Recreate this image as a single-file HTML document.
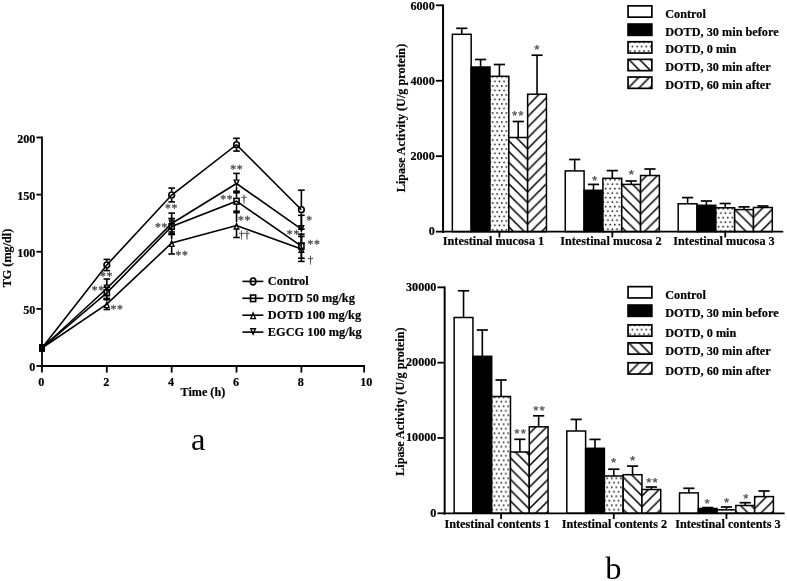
<!DOCTYPE html>
<html><head><meta charset="utf-8"><title>Figure</title>
<style>
html,body{margin:0;padding:0;background:#fff;}
svg{display:block;font-family:"Liberation Serif",serif;}
</style></head><body>
<svg width="787" height="581" viewBox="0 0 787 581">
<defs>
<pattern id="p0" patternUnits="userSpaceOnUse" x="491.8" y="85.2" width="4.58" height="9.0"><rect x="0.05" y="0.05" width="1.5" height="1.5" fill="#000"/><rect x="2.34" y="4.55" width="1.5" height="1.5" fill="#000"/></pattern>
<pattern id="p1" patternUnits="userSpaceOnUse" x="527.6" y="148.9" width="10.75" height="10.75"><path d="M-2,-2 L12.75,12.75 M-2,8.75 L2,12.75 M8.75,-2 L12.75,2" stroke="#000" stroke-width="1.55" fill="none"/></pattern>
<pattern id="p2" patternUnits="userSpaceOnUse" x="527.6" y="148.9" width="10.75" height="10.75"><path d="M-2,12.75 L12.75,-2 M-2,2 L2,-2 M8.75,12.75 L12.75,8.75" stroke="#000" stroke-width="1.55" fill="none"/></pattern>
<pattern id="p3" patternUnits="userSpaceOnUse" x="604.8000000000001" y="88.83" width="4.58" height="9.0"><rect x="0.05" y="0.05" width="1.5" height="1.5" fill="#000"/><rect x="2.34" y="4.55" width="1.5" height="1.5" fill="#000"/></pattern>
<pattern id="p4" patternUnits="userSpaceOnUse" x="640.6" y="192.4" width="10.75" height="10.75"><path d="M-2,-2 L12.75,12.75 M-2,8.75 L2,12.75 M8.75,-2 L12.75,2" stroke="#000" stroke-width="1.55" fill="none"/></pattern>
<pattern id="p5" patternUnits="userSpaceOnUse" x="640.6" y="192.4" width="10.75" height="10.75"><path d="M-2,12.75 L12.75,-2 M-2,2 L2,-2 M8.75,12.75 L12.75,8.75" stroke="#000" stroke-width="1.55" fill="none"/></pattern>
<pattern id="p6" patternUnits="userSpaceOnUse" x="717.8000000000001" y="81.82000000000001" width="4.58" height="9.0"><rect x="0.05" y="0.05" width="1.5" height="1.5" fill="#000"/><rect x="2.34" y="4.55" width="1.5" height="1.5" fill="#000"/></pattern>
<pattern id="p7" patternUnits="userSpaceOnUse" x="753.4" y="228.1" width="10.75" height="10.75"><path d="M-2,-2 L12.75,12.75 M-2,8.75 L2,12.75 M8.75,-2 L12.75,2" stroke="#000" stroke-width="1.55" fill="none"/></pattern>
<pattern id="p8" patternUnits="userSpaceOnUse" x="753.4" y="228.1" width="10.75" height="10.75"><path d="M-2,12.75 L12.75,-2 M-2,2 L2,-2 M8.75,12.75 L12.75,8.75" stroke="#000" stroke-width="1.55" fill="none"/></pattern>
<pattern id="p9" patternUnits="userSpaceOnUse" x="629.4000000000001" y="50.300000000000004" width="4.58" height="9.0"><rect x="0.05" y="0.05" width="1.5" height="1.5" fill="#000"/><rect x="2.34" y="4.55" width="1.5" height="1.5" fill="#000"/></pattern>
<pattern id="p10" patternUnits="userSpaceOnUse" x="629.5" y="60.2" width="10.75" height="10.75"><path d="M-2,-2 L12.75,12.75 M-2,8.75 L2,12.75 M8.75,-2 L12.75,2" stroke="#000" stroke-width="1.55" fill="none"/></pattern>
<pattern id="p11" patternUnits="userSpaceOnUse" x="628.65" y="87.5" width="10.75" height="10.75"><path d="M-2,12.75 L12.75,-2 M-2,2 L2,-2 M8.75,12.75 L12.75,8.75" stroke="#000" stroke-width="1.55" fill="none"/></pattern>
<pattern id="p12" patternUnits="userSpaceOnUse" x="493.65" y="405.46" width="4.58" height="9.0"><rect x="0.05" y="0.05" width="1.5" height="1.5" fill="#000"/><rect x="2.34" y="4.55" width="1.5" height="1.5" fill="#000"/></pattern>
<pattern id="p13" patternUnits="userSpaceOnUse" x="529.2" y="465.9" width="10.75" height="10.75"><path d="M-2,-2 L12.75,12.75 M-2,8.75 L2,12.75 M8.75,-2 L12.75,2" stroke="#000" stroke-width="1.55" fill="none"/></pattern>
<pattern id="p14" patternUnits="userSpaceOnUse" x="529.2" y="465.9" width="10.75" height="10.75"><path d="M-2,12.75 L12.75,-2 M-2,2 L2,-2 M8.75,12.75 L12.75,8.75" stroke="#000" stroke-width="1.55" fill="none"/></pattern>
<pattern id="p15" patternUnits="userSpaceOnUse" x="606.33" y="405.46" width="4.58" height="9.0"><rect x="0.05" y="0.05" width="1.5" height="1.5" fill="#000"/><rect x="2.34" y="4.55" width="1.5" height="1.5" fill="#000"/></pattern>
<pattern id="p16" patternUnits="userSpaceOnUse" x="642" y="485.2" width="10.75" height="10.75"><path d="M-2,-2 L12.75,12.75 M-2,8.75 L2,12.75 M8.75,-2 L12.75,2" stroke="#000" stroke-width="1.55" fill="none"/></pattern>
<pattern id="p17" patternUnits="userSpaceOnUse" x="642" y="485.2" width="10.75" height="10.75"><path d="M-2,12.75 L12.75,-2 M-2,2 L2,-2 M8.75,12.75 L12.75,8.75" stroke="#000" stroke-width="1.55" fill="none"/></pattern>
<pattern id="p18" patternUnits="userSpaceOnUse" x="719.01" y="405.46" width="4.58" height="9.0"><rect x="0.05" y="0.05" width="1.5" height="1.5" fill="#000"/><rect x="2.34" y="4.55" width="1.5" height="1.5" fill="#000"/></pattern>
<pattern id="p19" patternUnits="userSpaceOnUse" x="754.5" y="508.7" width="10.75" height="10.75"><path d="M-2,-2 L12.75,12.75 M-2,8.75 L2,12.75 M8.75,-2 L12.75,2" stroke="#000" stroke-width="1.55" fill="none"/></pattern>
<pattern id="p20" patternUnits="userSpaceOnUse" x="754.5" y="508.7" width="10.75" height="10.75"><path d="M-2,12.75 L12.75,-2 M-2,2 L2,-2 M8.75,12.75 L12.75,8.75" stroke="#000" stroke-width="1.55" fill="none"/></pattern>
<pattern id="p21" patternUnits="userSpaceOnUse" x="629.4000000000001" y="333.4" width="4.58" height="9.0"><rect x="0.05" y="0.05" width="1.5" height="1.5" fill="#000"/><rect x="2.34" y="4.55" width="1.5" height="1.5" fill="#000"/></pattern>
<pattern id="p22" patternUnits="userSpaceOnUse" x="629.5" y="343.70000000000005" width="10.75" height="10.75"><path d="M-2,-2 L12.75,12.75 M-2,8.75 L2,12.75 M8.75,-2 L12.75,2" stroke="#000" stroke-width="1.55" fill="none"/></pattern>
<pattern id="p23" patternUnits="userSpaceOnUse" x="628.65" y="373.2" width="10.75" height="10.75"><path d="M-2,12.75 L12.75,-2 M-2,2 L2,-2 M8.75,12.75 L12.75,8.75" stroke="#000" stroke-width="1.55" fill="none"/></pattern>
</defs>
<rect width="787" height="581" fill="#fff"/>

<g id="chartA">
<line x1="42" y1="136.6" x2="42" y2="366.9" stroke="#000" stroke-width="1.8" />
<line x1="41.1" y1="366" x2="365.0" y2="366" stroke="#000" stroke-width="1.8" />
<line x1="36.4" y1="366.0" x2="42" y2="366.0" stroke="#000" stroke-width="1.8" />
<text x="35.4" y="371.0" font-size="12.15" font-weight="bold" stroke="#000" stroke-width="0.18" text-anchor="end" fill="#000" >0</text>
<line x1="36.4" y1="308.88" x2="42" y2="308.88" stroke="#000" stroke-width="1.8" />
<text x="35.4" y="313.88" font-size="12.15" font-weight="bold" stroke="#000" stroke-width="0.18" text-anchor="end" fill="#000" >50</text>
<line x1="36.4" y1="251.75" x2="42" y2="251.75" stroke="#000" stroke-width="1.8" />
<text x="35.4" y="256.75" font-size="12.15" font-weight="bold" stroke="#000" stroke-width="0.18" text-anchor="end" fill="#000" >100</text>
<line x1="36.4" y1="194.62" x2="42" y2="194.62" stroke="#000" stroke-width="1.8" />
<text x="35.4" y="199.62" font-size="12.15" font-weight="bold" stroke="#000" stroke-width="0.18" text-anchor="end" fill="#000" >150</text>
<line x1="36.4" y1="137.5" x2="42" y2="137.5" stroke="#000" stroke-width="1.8" />
<text x="35.4" y="142.5" font-size="12.15" font-weight="bold" stroke="#000" stroke-width="0.18" text-anchor="end" fill="#000" >200</text>
<line x1="41.95" y1="366" x2="41.95" y2="372.6" stroke="#000" stroke-width="1.8" />
<text x="41.35" y="386.1" font-size="12.15" font-weight="bold" stroke="#000" stroke-width="0.18" text-anchor="middle" fill="#000" >0</text>
<line x1="106.81" y1="366" x2="106.81" y2="372.6" stroke="#000" stroke-width="1.8" />
<text x="106.21" y="386.1" font-size="12.15" font-weight="bold" stroke="#000" stroke-width="0.18" text-anchor="middle" fill="#000" >2</text>
<line x1="171.67" y1="366" x2="171.67" y2="372.6" stroke="#000" stroke-width="1.8" />
<text x="171.07" y="386.1" font-size="12.15" font-weight="bold" stroke="#000" stroke-width="0.18" text-anchor="middle" fill="#000" >4</text>
<line x1="236.53" y1="366" x2="236.53" y2="372.6" stroke="#000" stroke-width="1.8" />
<text x="235.93" y="386.1" font-size="12.15" font-weight="bold" stroke="#000" stroke-width="0.18" text-anchor="middle" fill="#000" >6</text>
<line x1="301.39" y1="366" x2="301.39" y2="372.6" stroke="#000" stroke-width="1.8" />
<text x="300.79" y="386.1" font-size="12.15" font-weight="bold" stroke="#000" stroke-width="0.18" text-anchor="middle" fill="#000" >8</text>
<line x1="364.1" y1="366" x2="364.1" y2="372.6" stroke="#000" stroke-width="1.8" />
<text x="366.3" y="386.1" font-size="12.15" font-weight="bold" stroke="#000" stroke-width="0.18" text-anchor="middle" fill="#000" >10</text>
<text x="202.9" y="395.8" font-size="12.15" font-weight="bold" stroke="#000" stroke-width="0.18" text-anchor="middle" fill="#000" >Time (h)</text>
<text transform="translate(11,258) rotate(-90)" font-size="12.2" font-weight="bold" stroke="#000" stroke-width="0.18" text-anchor="middle">TG (mg/dl)</text>
<text x="198.3" y="450" font-size="32.5"  text-anchor="middle" fill="#000" >a</text>
<line x1="106.81" y1="259.4" x2="106.81" y2="261.4" stroke="#000" stroke-width="1.6" />
<line x1="106.81" y1="268.6" x2="106.81" y2="270.6" stroke="#000" stroke-width="1.6" />
<line x1="103.51" y1="259.4" x2="110.11" y2="259.4" stroke="#000" stroke-width="1.6" />
<line x1="103.51" y1="270.6" x2="110.11" y2="270.6" stroke="#000" stroke-width="1.6" />
<line x1="171.67" y1="188.1" x2="171.67" y2="191.4" stroke="#000" stroke-width="1.6" />
<line x1="171.67" y1="198.6" x2="171.67" y2="201.9" stroke="#000" stroke-width="1.6" />
<line x1="168.36999999999998" y1="188.1" x2="174.97" y2="188.1" stroke="#000" stroke-width="1.6" />
<line x1="168.36999999999998" y1="201.9" x2="174.97" y2="201.9" stroke="#000" stroke-width="1.6" />
<line x1="236.53" y1="138.3" x2="236.53" y2="141.1" stroke="#000" stroke-width="1.6" />
<line x1="236.53" y1="148.3" x2="236.53" y2="151.1" stroke="#000" stroke-width="1.6" />
<line x1="233.23" y1="138.3" x2="239.83" y2="138.3" stroke="#000" stroke-width="1.6" />
<line x1="233.23" y1="151.1" x2="239.83" y2="151.1" stroke="#000" stroke-width="1.6" />
<line x1="301.39" y1="190.2" x2="301.39" y2="206.1" stroke="#000" stroke-width="1.6" />
<line x1="301.39" y1="213.3" x2="301.39" y2="229.2" stroke="#000" stroke-width="1.6" />
<line x1="298.09" y1="190.2" x2="304.69" y2="190.2" stroke="#000" stroke-width="1.6" />
<line x1="298.09" y1="229.2" x2="304.69" y2="229.2" stroke="#000" stroke-width="1.6" />
<polyline fill="none" stroke="#000" stroke-width="1.6" points="41.95,348 106.81,265 171.67,195 236.53,144.7 301.39,209.7"/>
<line x1="106.81" y1="279.0" x2="106.81" y2="284.9" stroke="#000" stroke-width="1.6" />
<line x1="106.81" y1="292.1" x2="106.81" y2="298.4" stroke="#000" stroke-width="1.6" />
<line x1="103.51" y1="279.0" x2="110.11" y2="279.0" stroke="#000" stroke-width="1.6" />
<line x1="103.51" y1="298.4" x2="110.11" y2="298.4" stroke="#000" stroke-width="1.6" />
<line x1="171.67" y1="213.1" x2="171.67" y2="219.9" stroke="#000" stroke-width="1.6" />
<line x1="171.67" y1="227.1" x2="171.67" y2="233.9" stroke="#000" stroke-width="1.6" />
<line x1="168.36999999999998" y1="213.1" x2="174.97" y2="213.1" stroke="#000" stroke-width="1.6" />
<line x1="168.36999999999998" y1="233.9" x2="174.97" y2="233.9" stroke="#000" stroke-width="1.6" />
<line x1="236.53" y1="173.4" x2="236.53" y2="179.9" stroke="#000" stroke-width="1.6" />
<line x1="236.53" y1="187.1" x2="236.53" y2="192.8" stroke="#000" stroke-width="1.6" />
<line x1="233.23" y1="173.4" x2="239.83" y2="173.4" stroke="#000" stroke-width="1.6" />
<line x1="233.23" y1="192.8" x2="239.83" y2="192.8" stroke="#000" stroke-width="1.6" />
<line x1="301.39" y1="215.3" x2="301.39" y2="225.6" stroke="#000" stroke-width="1.6" />
<line x1="301.39" y1="232.8" x2="301.39" y2="243.1" stroke="#000" stroke-width="1.6" />
<line x1="298.09" y1="215.3" x2="304.69" y2="215.3" stroke="#000" stroke-width="1.6" />
<line x1="298.09" y1="243.1" x2="304.69" y2="243.1" stroke="#000" stroke-width="1.6" />
<polyline fill="none" stroke="#000" stroke-width="1.6" points="41.95,348 106.81,288.5 171.67,223.5 236.53,183.5 301.39,229.2"/>
<line x1="106.81" y1="287.3" x2="106.81" y2="289.2" stroke="#000" stroke-width="1.6" />
<line x1="106.81" y1="296.4" x2="106.81" y2="299.7" stroke="#000" stroke-width="1.6" />
<line x1="103.51" y1="287.3" x2="110.11" y2="287.3" stroke="#000" stroke-width="1.6" />
<line x1="103.51" y1="299.7" x2="110.11" y2="299.7" stroke="#000" stroke-width="1.6" />
<line x1="171.67" y1="218.5" x2="171.67" y2="222.9" stroke="#000" stroke-width="1.6" />
<line x1="171.67" y1="230.1" x2="171.67" y2="234.5" stroke="#000" stroke-width="1.6" />
<line x1="168.36999999999998" y1="218.5" x2="174.97" y2="218.5" stroke="#000" stroke-width="1.6" />
<line x1="168.36999999999998" y1="234.5" x2="174.97" y2="234.5" stroke="#000" stroke-width="1.6" />
<line x1="236.53" y1="191.2" x2="236.53" y2="197.6" stroke="#000" stroke-width="1.6" />
<line x1="236.53" y1="204.8" x2="236.53" y2="211.2" stroke="#000" stroke-width="1.6" />
<line x1="233.23" y1="191.2" x2="239.83" y2="191.2" stroke="#000" stroke-width="1.6" />
<line x1="233.23" y1="211.2" x2="239.83" y2="211.2" stroke="#000" stroke-width="1.6" />
<line x1="301.39" y1="234.2" x2="301.39" y2="242.6" stroke="#000" stroke-width="1.6" />
<line x1="301.39" y1="249.8" x2="301.39" y2="258.2" stroke="#000" stroke-width="1.6" />
<line x1="298.09" y1="234.2" x2="304.69" y2="234.2" stroke="#000" stroke-width="1.6" />
<line x1="298.09" y1="258.2" x2="304.69" y2="258.2" stroke="#000" stroke-width="1.6" />
<polyline fill="none" stroke="#000" stroke-width="1.6" points="41.95,348 106.81,292.8 171.67,226.5 236.53,201.2 301.39,246.2"/>
<line x1="106.81" y1="298.9" x2="106.81" y2="300.6" stroke="#000" stroke-width="1.6" />
<line x1="106.81" y1="307.8" x2="106.81" y2="309.5" stroke="#000" stroke-width="1.6" />
<line x1="103.51" y1="298.9" x2="110.11" y2="298.9" stroke="#000" stroke-width="1.6" />
<line x1="103.51" y1="309.5" x2="110.11" y2="309.5" stroke="#000" stroke-width="1.6" />
<line x1="171.67" y1="232" x2="171.67" y2="239.4" stroke="#000" stroke-width="1.6" />
<line x1="171.67" y1="246.6" x2="171.67" y2="254" stroke="#000" stroke-width="1.6" />
<line x1="168.36999999999998" y1="232" x2="174.97" y2="232" stroke="#000" stroke-width="1.6" />
<line x1="168.36999999999998" y1="254" x2="174.97" y2="254" stroke="#000" stroke-width="1.6" />
<line x1="236.53" y1="212.6" x2="236.53" y2="222.0" stroke="#000" stroke-width="1.6" />
<line x1="236.53" y1="229.2" x2="236.53" y2="237.5" stroke="#000" stroke-width="1.6" />
<line x1="233.23" y1="212.6" x2="239.83" y2="212.6" stroke="#000" stroke-width="1.6" />
<line x1="233.23" y1="237.5" x2="239.83" y2="237.5" stroke="#000" stroke-width="1.6" />
<line x1="301.39" y1="236.4" x2="301.39" y2="245.3" stroke="#000" stroke-width="1.6" />
<line x1="301.39" y1="252.5" x2="301.39" y2="261.4" stroke="#000" stroke-width="1.6" />
<line x1="298.09" y1="236.4" x2="304.69" y2="236.4" stroke="#000" stroke-width="1.6" />
<line x1="298.09" y1="261.4" x2="304.69" y2="261.4" stroke="#000" stroke-width="1.6" />
<polyline fill="none" stroke="#000" stroke-width="1.6" points="41.95,348 106.81,304.2 171.67,243 236.53,225.6 301.39,248.9"/>
<rect x="39.050000000000004" y="344.5" width="5.8" height="7" fill="#000"/>
<ellipse cx="106.81" cy="265" rx="2.8" ry="2.95" fill="none" stroke="#000" stroke-width="1.6"/>
<ellipse cx="171.67" cy="195" rx="2.8" ry="2.95" fill="none" stroke="#000" stroke-width="1.6"/>
<ellipse cx="236.53" cy="144.7" rx="2.8" ry="2.95" fill="none" stroke="#000" stroke-width="1.6"/>
<ellipse cx="301.39" cy="209.7" rx="2.8" ry="2.95" fill="none" stroke="#000" stroke-width="1.6"/>
<rect x="39.050000000000004" y="344.5" width="5.8" height="7" fill="#000"/>
<path d="M106.81,290.6 L109.11,285.1 L104.51,285.1 Z" fill="none" stroke="#000" stroke-width="1.4000000000000001" stroke-linejoin="miter"/>
<path d="M171.67,225.6 L173.97,220.1 L169.36999999999998,220.1 Z" fill="none" stroke="#000" stroke-width="1.4000000000000001" stroke-linejoin="miter"/>
<path d="M236.53,185.6 L238.83,180.1 L234.23,180.1 Z" fill="none" stroke="#000" stroke-width="1.4000000000000001" stroke-linejoin="miter"/>
<path d="M301.39,231.3 L303.69,225.8 L299.09,225.8 Z" fill="none" stroke="#000" stroke-width="1.4000000000000001" stroke-linejoin="miter"/>
<rect x="39.050000000000004" y="344.5" width="5.8" height="7" fill="#000"/>
<rect x="104.26" y="289.95" width="5.1" height="5.7" fill="none" stroke="#000" stroke-width="1.6"/>
<rect x="169.12" y="223.65" width="5.1" height="5.7" fill="none" stroke="#000" stroke-width="1.6"/>
<rect x="233.98" y="198.35" width="5.1" height="5.7" fill="none" stroke="#000" stroke-width="1.6"/>
<rect x="298.84" y="243.35" width="5.1" height="5.7" fill="none" stroke="#000" stroke-width="1.6"/>
<rect x="39.050000000000004" y="344.5" width="5.8" height="7" fill="#000"/>
<path d="M106.81,302.1 L109.11,307.6 L104.51,307.6 Z" fill="none" stroke="#000" stroke-width="1.4000000000000001" stroke-linejoin="miter"/>
<path d="M171.67,240.9 L173.97,246.4 L169.36999999999998,246.4 Z" fill="none" stroke="#000" stroke-width="1.4000000000000001" stroke-linejoin="miter"/>
<path d="M236.53,223.5 L238.83,229.0 L234.23,229.0 Z" fill="none" stroke="#000" stroke-width="1.4000000000000001" stroke-linejoin="miter"/>
<path d="M301.39,246.8 L303.69,252.3 L299.09,252.3 Z" fill="none" stroke="#000" stroke-width="1.4000000000000001" stroke-linejoin="miter"/>
<text x="106.6" y="279.96" font-size="11.7" letter-spacing="0.7" text-anchor="middle" fill="#4a4a4a" stroke="#4a4a4a" stroke-width="0.3">**</text>
<text x="98.19999999999999" y="294.46" font-size="11.7" letter-spacing="0.7" text-anchor="middle" fill="#4a4a4a" stroke="#4a4a4a" stroke-width="0.3">**</text>
<text x="117.1" y="313.46" font-size="11.7" letter-spacing="0.7" text-anchor="middle" fill="#4a4a4a" stroke="#4a4a4a" stroke-width="0.3">**</text>
<text x="171.6" y="211.96" font-size="11.7" letter-spacing="0.7" text-anchor="middle" fill="#4a4a4a" stroke="#4a4a4a" stroke-width="0.3">**</text>
<text x="161.6" y="230.96" font-size="11.7" letter-spacing="0.7" text-anchor="middle" fill="#4a4a4a" stroke="#4a4a4a" stroke-width="0.3">**</text>
<text x="182.1" y="258.96" font-size="11.7" letter-spacing="0.7" text-anchor="middle" fill="#4a4a4a" stroke="#4a4a4a" stroke-width="0.3">**</text>
<text x="236.79999999999998" y="172.96" font-size="11.7" letter-spacing="0.7" text-anchor="middle" fill="#4a4a4a" stroke="#4a4a4a" stroke-width="0.3">**</text>
<text x="226.79999999999998" y="202.96" font-size="11.7" letter-spacing="0.7" text-anchor="middle" fill="#4a4a4a" stroke="#4a4a4a" stroke-width="0.3">**</text>
<text x="244.1" y="201.73" font-size="11" text-anchor="middle" fill="#4a4a4a" stroke="#4a4a4a" stroke-width="0.3">†</text>
<text x="244.6" y="224.46" font-size="11.7" letter-spacing="0.7" text-anchor="middle" fill="#4a4a4a" stroke="#4a4a4a" stroke-width="0.3">**</text>
<text x="244.25" y="238.43" font-size="11" text-anchor="middle" fill="#4a4a4a" stroke="#4a4a4a" stroke-width="0.3">††</text>
<text x="309.55" y="224.46" font-size="11.7" letter-spacing="0.7" text-anchor="middle" fill="#4a4a4a" stroke="#4a4a4a" stroke-width="0.3">*</text>
<text x="293.40000000000003" y="238.36" font-size="11.7" letter-spacing="0.7" text-anchor="middle" fill="#4a4a4a" stroke="#4a4a4a" stroke-width="0.3">**</text>
<text x="314.1" y="247.96" font-size="11.7" letter-spacing="0.7" text-anchor="middle" fill="#4a4a4a" stroke="#4a4a4a" stroke-width="0.3">**</text>
<text x="310.5" y="263.03" font-size="11" text-anchor="middle" fill="#4a4a4a" stroke="#4a4a4a" stroke-width="0.3">†</text>
<line x1="242.4" y1="281.4" x2="263.4" y2="281.4" stroke="#000" stroke-width="1.6" />
<ellipse cx="253.1" cy="281.4" rx="2.7" ry="3.45" fill="none" stroke="#000" stroke-width="1.6"/>
<text x="267.8" y="284.8" font-size="12.35" font-weight="bold" stroke="#000" stroke-width="0.18" text-anchor="start" fill="#000" >Control</text>
<line x1="242.4" y1="298.29999999999995" x2="263.4" y2="298.29999999999995" stroke="#000" stroke-width="1.6" />
<rect x="250.55" y="295.05" width="5.1" height="6.5" fill="none" stroke="#000" stroke-width="1.6"/>
<text x="267.8" y="301.7" font-size="12.35" font-weight="bold" stroke="#000" stroke-width="0.18" text-anchor="start" fill="#000" >DOTD 50 mg/kg</text>
<line x1="242.4" y1="315.2" x2="263.4" y2="315.2" stroke="#000" stroke-width="1.6" />
<path d="M253.1,313.1 L255.4,318.6 L250.79999999999998,318.6 Z" fill="none" stroke="#000" stroke-width="1.4000000000000001" stroke-linejoin="miter"/>
<text x="267.8" y="318.6" font-size="12.35" font-weight="bold" stroke="#000" stroke-width="0.18" text-anchor="start" fill="#000" >DOTD 100 mg/kg</text>
<line x1="242.4" y1="332.09999999999997" x2="263.4" y2="332.09999999999997" stroke="#000" stroke-width="1.6" />
<path d="M253.1,334.2 L255.4,328.7 L250.79999999999998,328.7 Z" fill="none" stroke="#000" stroke-width="1.4000000000000001" stroke-linejoin="miter"/>
<text x="267.8" y="335.5" font-size="12.35" font-weight="bold" stroke="#000" stroke-width="0.18" text-anchor="start" fill="#000" >EGCG 100 mg/kg</text>
</g>
<g>
<line x1="461.76" y1="28.3" x2="461.76" y2="34.3" stroke="#000" stroke-width="1.6" />
<line x1="456.16" y1="28.3" x2="467.36" y2="28.3" stroke="#000" stroke-width="1.7000000000000002" />
<rect x="452.35" y="34.3" width="18.82" height="197.35" fill="#fff" stroke="#000" stroke-width="1.5"/>
<line x1="480.58" y1="59.5" x2="480.58" y2="67" stroke="#000" stroke-width="1.6" />
<line x1="474.98" y1="59.5" x2="486.18" y2="59.5" stroke="#000" stroke-width="1.7000000000000002" />
<rect x="471.17" y="67" width="18.82" height="164.65" fill="#000" stroke="#000" stroke-width="1.5"/>
<line x1="499.4" y1="64.5" x2="499.4" y2="76.3" stroke="#000" stroke-width="1.6" />
<line x1="493.8" y1="64.5" x2="505.0" y2="64.5" stroke="#000" stroke-width="1.7000000000000002" />
<rect x="489.99" y="76.3" width="18.82" height="155.35" fill="#fff"/>
<rect x="489.99" y="76.3" width="18.82" height="155.35" fill="url(#p0)" stroke="#000" stroke-width="1.5"/>
<line x1="518.22" y1="121.5" x2="518.22" y2="137.5" stroke="#000" stroke-width="1.6" />
<line x1="512.62" y1="121.5" x2="523.82" y2="121.5" stroke="#000" stroke-width="1.7000000000000002" />
<rect x="508.81" y="137.5" width="18.82" height="94.15" fill="#fff"/>
<rect x="508.81" y="137.5" width="18.82" height="94.15" fill="url(#p1)" stroke="#000" stroke-width="1.5"/>
<line x1="537.04" y1="55.2" x2="537.04" y2="94.2" stroke="#000" stroke-width="1.6" />
<line x1="531.44" y1="55.2" x2="542.64" y2="55.2" stroke="#000" stroke-width="1.7000000000000002" />
<rect x="527.63" y="94.2" width="18.82" height="137.45" fill="#fff"/>
<rect x="527.63" y="94.2" width="18.82" height="137.45" fill="url(#p2)" stroke="#000" stroke-width="1.5"/>
<line x1="499.4" y1="231.65" x2="499.4" y2="237.45000000000002" stroke="#000" stroke-width="1.8" />
<text x="493.5" y="245.0" font-size="12.25" font-weight="bold" stroke="#000" stroke-width="0.18" text-anchor="middle" fill="#000" >Intestinal mucosa 1</text>
<line x1="574.68" y1="159.5" x2="574.68" y2="170.9" stroke="#000" stroke-width="1.6" />
<line x1="569.08" y1="159.5" x2="580.28" y2="159.5" stroke="#000" stroke-width="1.7000000000000002" />
<rect x="565.27" y="170.9" width="18.82" height="60.75" fill="#fff" stroke="#000" stroke-width="1.5"/>
<line x1="593.5" y1="184.4" x2="593.5" y2="190.3" stroke="#000" stroke-width="1.6" />
<line x1="587.9" y1="184.4" x2="599.1" y2="184.4" stroke="#000" stroke-width="1.7000000000000002" />
<rect x="584.09" y="190.3" width="18.82" height="41.35" fill="#000" stroke="#000" stroke-width="1.5"/>
<line x1="612.32" y1="170.6" x2="612.32" y2="178.3" stroke="#000" stroke-width="1.6" />
<line x1="606.72" y1="170.6" x2="617.92" y2="170.6" stroke="#000" stroke-width="1.7000000000000002" />
<rect x="602.91" y="178.3" width="18.82" height="53.35" fill="#fff"/>
<rect x="602.91" y="178.3" width="18.82" height="53.35" fill="url(#p3)" stroke="#000" stroke-width="1.5"/>
<line x1="631.14" y1="181" x2="631.14" y2="184.4" stroke="#000" stroke-width="1.6" />
<line x1="625.54" y1="181" x2="636.74" y2="181" stroke="#000" stroke-width="1.7000000000000002" />
<rect x="621.73" y="184.4" width="18.82" height="47.25" fill="#fff"/>
<rect x="621.73" y="184.4" width="18.82" height="47.25" fill="url(#p4)" stroke="#000" stroke-width="1.5"/>
<line x1="649.96" y1="169" x2="649.96" y2="175.5" stroke="#000" stroke-width="1.6" />
<line x1="644.36" y1="169" x2="655.56" y2="169" stroke="#000" stroke-width="1.7000000000000002" />
<rect x="640.55" y="175.5" width="18.82" height="56.15" fill="#fff"/>
<rect x="640.55" y="175.5" width="18.82" height="56.15" fill="url(#p5)" stroke="#000" stroke-width="1.5"/>
<line x1="612.32" y1="231.65" x2="612.32" y2="237.45000000000002" stroke="#000" stroke-width="1.8" />
<text x="610.9" y="245.0" font-size="12.25" font-weight="bold" stroke="#000" stroke-width="0.18" text-anchor="middle" fill="#000" >Intestinal mucosa 2</text>
<line x1="687.6" y1="197.6" x2="687.6" y2="203.8" stroke="#000" stroke-width="1.6" />
<line x1="682.0" y1="197.6" x2="693.2" y2="197.6" stroke="#000" stroke-width="1.7000000000000002" />
<rect x="678.19" y="203.8" width="18.82" height="27.85" fill="#fff" stroke="#000" stroke-width="1.5"/>
<line x1="706.42" y1="201" x2="706.42" y2="205.3" stroke="#000" stroke-width="1.6" />
<line x1="700.82" y1="201" x2="712.02" y2="201" stroke="#000" stroke-width="1.7000000000000002" />
<rect x="697.01" y="205.3" width="18.82" height="26.35" fill="#000" stroke="#000" stroke-width="1.5"/>
<line x1="725.24" y1="203.5" x2="725.24" y2="207.8" stroke="#000" stroke-width="1.6" />
<line x1="719.64" y1="203.5" x2="730.84" y2="203.5" stroke="#000" stroke-width="1.7000000000000002" />
<rect x="715.83" y="207.8" width="18.82" height="23.85" fill="#fff"/>
<rect x="715.83" y="207.8" width="18.82" height="23.85" fill="url(#p6)" stroke="#000" stroke-width="1.5"/>
<line x1="744.06" y1="206.9" x2="744.06" y2="209.6" stroke="#000" stroke-width="1.6" />
<line x1="738.46" y1="206.9" x2="749.66" y2="206.9" stroke="#000" stroke-width="1.7000000000000002" />
<rect x="734.65" y="209.6" width="18.82" height="22.05" fill="#fff"/>
<rect x="734.65" y="209.6" width="18.82" height="22.05" fill="url(#p7)" stroke="#000" stroke-width="1.5"/>
<line x1="762.88" y1="206" x2="762.88" y2="207.5" stroke="#000" stroke-width="1.6" />
<line x1="757.28" y1="206" x2="768.48" y2="206" stroke="#000" stroke-width="1.7000000000000002" />
<rect x="753.47" y="207.5" width="18.82" height="24.15" fill="#fff"/>
<rect x="753.47" y="207.5" width="18.82" height="24.15" fill="url(#p8)" stroke="#000" stroke-width="1.5"/>
<line x1="725.24" y1="231.65" x2="725.24" y2="237.45000000000002" stroke="#000" stroke-width="1.8" />
<text x="724" y="245.0" font-size="12.25" font-weight="bold" stroke="#000" stroke-width="0.18" text-anchor="middle" fill="#000" >Intestinal mucosa 3</text>
<line x1="443.05" y1="4.3999999999999995" x2="443.05" y2="232.95000000000002" stroke="#000" stroke-width="2.0" />
<line x1="442.15000000000003" y1="231.65" x2="783.3" y2="231.65" stroke="#000" stroke-width="1.8" />
<line x1="435.85" y1="5.3" x2="443.05" y2="5.3" stroke="#000" stroke-width="1.8" />
<text x="434.75" y="10.45" font-size="12.15" font-weight="bold" stroke="#000" stroke-width="0.18" text-anchor="end" fill="#000" >6000</text>
<line x1="435.85" y1="80.75" x2="443.05" y2="80.75" stroke="#000" stroke-width="1.8" />
<text x="434.75" y="84.5" font-size="12.15" font-weight="bold" stroke="#000" stroke-width="0.18" text-anchor="end" fill="#000" >4000</text>
<line x1="435.85" y1="156.2" x2="443.05" y2="156.2" stroke="#000" stroke-width="1.8" />
<text x="434.75" y="159.65" font-size="12.15" font-weight="bold" stroke="#000" stroke-width="0.18" text-anchor="end" fill="#000" >2000</text>
<line x1="435.85" y1="231.65" x2="443.05" y2="231.65" stroke="#000" stroke-width="1.8" />
<text x="434.75" y="234.8" font-size="12.15" font-weight="bold" stroke="#000" stroke-width="0.18" text-anchor="end" fill="#000" >0</text>
<text transform="translate(404.6,118) rotate(-90)" font-size="12.2" font-weight="bold" stroke="#000" stroke-width="0.18" text-anchor="middle">Lipase Activity (U/g protein)</text>
<rect x="628.05" y="5.85" width="23.8" height="11.3" fill="#fff" stroke="#000" stroke-width="1.7"/>
<text x="665.2" y="17.5" font-size="12.25" font-weight="bold" stroke="#000" stroke-width="0.18" text-anchor="start" fill="#000" >Control</text>
<rect x="628.05" y="24.05" width="23.8" height="11.3" fill="#000" stroke="#000" stroke-width="1.7"/>
<text x="665.2" y="35.7" font-size="12.25" font-weight="bold" stroke="#000" stroke-width="0.18" text-anchor="start" fill="#000" >DOTD, 30 min before</text>
<rect x="628.05" y="41.75" width="23.8" height="11.3" fill="#fff"/>
<rect x="628.05" y="41.75" width="23.8" height="11.3" fill="url(#p9)" stroke="#000" stroke-width="1.7"/>
<text x="665.2" y="53.4" font-size="12.25" font-weight="bold" stroke="#000" stroke-width="0.18" text-anchor="start" fill="#000" >DOTD, 0 min</text>
<rect x="628.05" y="59.35" width="23.8" height="11.3" fill="#fff"/>
<rect x="628.05" y="59.35" width="23.8" height="11.3" fill="url(#p10)" stroke="#000" stroke-width="1.7"/>
<text x="665.2" y="71.0" font-size="12.25" font-weight="bold" stroke="#000" stroke-width="0.18" text-anchor="start" fill="#000" >DOTD, 30 min after</text>
<rect x="628.05" y="77.05" width="23.8" height="11.3" fill="#fff"/>
<rect x="628.05" y="77.05" width="23.8" height="11.3" fill="url(#p11)" stroke="#000" stroke-width="1.7"/>
<text x="665.2" y="88.7" font-size="12.25" font-weight="bold" stroke="#000" stroke-width="0.18" text-anchor="start" fill="#000" >DOTD, 60 min after</text>
<text x="518.3" y="119.8" font-family="Liberation Sans, sans-serif" font-size="13.5" letter-spacing="1.1" text-anchor="middle" fill="#4a4a4a" stroke="#4a4a4a" stroke-width="0.25">**</text>
<text x="537.4" y="53.8" font-family="Liberation Sans, sans-serif" font-size="13.5" letter-spacing="1.1" text-anchor="middle" fill="#4a4a4a" stroke="#4a4a4a" stroke-width="0.25">*</text>
<text x="595.3" y="184.61" font-family="Liberation Sans, sans-serif" font-size="13.5" letter-spacing="1.1" text-anchor="middle" fill="#4a4a4a" stroke="#4a4a4a" stroke-width="0.25">*</text>
<text x="631.9" y="179.0" font-family="Liberation Sans, sans-serif" font-size="13.5" letter-spacing="1.1" text-anchor="middle" fill="#4a4a4a" stroke="#4a4a4a" stroke-width="0.25">*</text>
</g>
<g>
<line x1="463.54" y1="290.8" x2="463.54" y2="317.5" stroke="#000" stroke-width="1.6" />
<line x1="457.94" y1="290.8" x2="469.14" y2="290.8" stroke="#000" stroke-width="1.7000000000000002" />
<rect x="454.15" y="317.5" width="18.78" height="195.80" fill="#fff" stroke="#000" stroke-width="1.5"/>
<line x1="482.32" y1="330" x2="482.32" y2="356.3" stroke="#000" stroke-width="1.6" />
<line x1="476.72" y1="330" x2="487.92" y2="330" stroke="#000" stroke-width="1.7000000000000002" />
<rect x="472.93" y="356.3" width="18.78" height="157.00" fill="#000" stroke="#000" stroke-width="1.5"/>
<line x1="501.1" y1="380" x2="501.1" y2="396.5" stroke="#000" stroke-width="1.6" />
<line x1="495.5" y1="380" x2="506.7" y2="380" stroke="#000" stroke-width="1.7000000000000002" />
<rect x="491.71" y="396.5" width="18.78" height="116.80" fill="#fff"/>
<rect x="491.71" y="396.5" width="18.78" height="116.80" fill="url(#p12)" stroke="#000" stroke-width="1.5"/>
<line x1="519.88" y1="439.3" x2="519.88" y2="452" stroke="#000" stroke-width="1.6" />
<line x1="514.28" y1="439.3" x2="525.48" y2="439.3" stroke="#000" stroke-width="1.7000000000000002" />
<rect x="510.49" y="452" width="18.78" height="61.30" fill="#fff"/>
<rect x="510.49" y="452" width="18.78" height="61.30" fill="url(#p13)" stroke="#000" stroke-width="1.5"/>
<line x1="538.66" y1="415.8" x2="538.66" y2="426.8" stroke="#000" stroke-width="1.6" />
<line x1="533.06" y1="415.8" x2="544.26" y2="415.8" stroke="#000" stroke-width="1.7000000000000002" />
<rect x="529.27" y="426.8" width="18.78" height="86.50" fill="#fff"/>
<rect x="529.27" y="426.8" width="18.78" height="86.50" fill="url(#p14)" stroke="#000" stroke-width="1.5"/>
<line x1="501.1" y1="513.3" x2="501.1" y2="519.0999999999999" stroke="#000" stroke-width="1.8" />
<text x="497.2" y="527.9" font-size="12.25" font-weight="bold" stroke="#000" stroke-width="0.18" text-anchor="middle" fill="#000" >Intestinal contents 1</text>
<line x1="576.22" y1="419.4" x2="576.22" y2="431" stroke="#000" stroke-width="1.6" />
<line x1="570.62" y1="419.4" x2="581.82" y2="419.4" stroke="#000" stroke-width="1.7000000000000002" />
<rect x="566.83" y="431" width="18.78" height="82.30" fill="#fff" stroke="#000" stroke-width="1.5"/>
<line x1="595.0" y1="439.4" x2="595.0" y2="448.3" stroke="#000" stroke-width="1.6" />
<line x1="589.4" y1="439.4" x2="600.6" y2="439.4" stroke="#000" stroke-width="1.7000000000000002" />
<rect x="585.61" y="448.3" width="18.78" height="65.00" fill="#000" stroke="#000" stroke-width="1.5"/>
<line x1="613.78" y1="469.2" x2="613.78" y2="476" stroke="#000" stroke-width="1.6" />
<line x1="608.18" y1="469.2" x2="619.38" y2="469.2" stroke="#000" stroke-width="1.7000000000000002" />
<rect x="604.39" y="476" width="18.78" height="37.30" fill="#fff"/>
<rect x="604.39" y="476" width="18.78" height="37.30" fill="url(#p15)" stroke="#000" stroke-width="1.5"/>
<line x1="632.56" y1="466.1" x2="632.56" y2="474.7" stroke="#000" stroke-width="1.6" />
<line x1="626.96" y1="466.1" x2="638.16" y2="466.1" stroke="#000" stroke-width="1.7000000000000002" />
<rect x="623.17" y="474.7" width="18.78" height="38.60" fill="#fff"/>
<rect x="623.17" y="474.7" width="18.78" height="38.60" fill="url(#p16)" stroke="#000" stroke-width="1.5"/>
<line x1="651.34" y1="487" x2="651.34" y2="489.5" stroke="#000" stroke-width="1.6" />
<line x1="645.74" y1="487" x2="656.94" y2="487" stroke="#000" stroke-width="1.7000000000000002" />
<rect x="641.95" y="489.5" width="18.78" height="23.80" fill="#fff"/>
<rect x="641.95" y="489.5" width="18.78" height="23.80" fill="url(#p17)" stroke="#000" stroke-width="1.5"/>
<line x1="613.78" y1="513.3" x2="613.78" y2="519.0999999999999" stroke="#000" stroke-width="1.8" />
<text x="614.4" y="527.9" font-size="12.25" font-weight="bold" stroke="#000" stroke-width="0.18" text-anchor="middle" fill="#000" >Intestinal contents 2</text>
<line x1="688.9" y1="488.3" x2="688.9" y2="492.9" stroke="#000" stroke-width="1.6" />
<line x1="683.3" y1="488.3" x2="694.5" y2="488.3" stroke="#000" stroke-width="1.7000000000000002" />
<rect x="679.51" y="492.9" width="18.78" height="20.40" fill="#fff" stroke="#000" stroke-width="1.5"/>
<line x1="707.68" y1="507.6" x2="707.68" y2="508.5" stroke="#000" stroke-width="1.6" />
<line x1="702.08" y1="507.6" x2="713.28" y2="507.6" stroke="#000" stroke-width="1.7000000000000002" />
<rect x="698.29" y="508.5" width="18.78" height="4.80" fill="#000" stroke="#000" stroke-width="1.5"/>
<line x1="726.46" y1="507" x2="726.46" y2="509.8" stroke="#000" stroke-width="1.6" />
<line x1="720.86" y1="507" x2="732.06" y2="507" stroke="#000" stroke-width="1.7000000000000002" />
<rect x="717.07" y="509.8" width="18.78" height="3.50" fill="#fff"/>
<rect x="717.07" y="509.8" width="18.78" height="3.50" fill="url(#p18)" stroke="#000" stroke-width="1.5"/>
<line x1="745.24" y1="502.7" x2="745.24" y2="505.5" stroke="#000" stroke-width="1.6" />
<line x1="739.64" y1="502.7" x2="750.84" y2="502.7" stroke="#000" stroke-width="1.7000000000000002" />
<rect x="735.85" y="505.5" width="18.78" height="7.80" fill="#fff"/>
<rect x="735.85" y="505.5" width="18.78" height="7.80" fill="url(#p19)" stroke="#000" stroke-width="1.5"/>
<line x1="764.02" y1="491" x2="764.02" y2="496.6" stroke="#000" stroke-width="1.6" />
<line x1="758.42" y1="491" x2="769.62" y2="491" stroke="#000" stroke-width="1.7000000000000002" />
<rect x="754.63" y="496.6" width="18.78" height="16.70" fill="#fff"/>
<rect x="754.63" y="496.6" width="18.78" height="16.70" fill="url(#p20)" stroke="#000" stroke-width="1.5"/>
<line x1="726.46" y1="513.3" x2="726.46" y2="519.0999999999999" stroke="#000" stroke-width="1.8" />
<text x="727.9" y="527.9" font-size="12.25" font-weight="bold" stroke="#000" stroke-width="0.18" text-anchor="middle" fill="#000" >Intestinal contents 3</text>
<line x1="444.65" y1="286.45000000000005" x2="444.65" y2="514.5999999999999" stroke="#000" stroke-width="2.0" />
<line x1="443.75" y1="513.3" x2="784.6" y2="513.3" stroke="#000" stroke-width="1.8" />
<line x1="437.45" y1="287.35" x2="444.65" y2="287.35" stroke="#000" stroke-width="1.8" />
<text x="436.35" y="290.75" font-size="12.15" font-weight="bold" stroke="#000" stroke-width="0.18" text-anchor="end" fill="#000" >30000</text>
<line x1="437.45" y1="362.67" x2="444.65" y2="362.67" stroke="#000" stroke-width="1.8" />
<text x="436.35" y="366.0" font-size="12.15" font-weight="bold" stroke="#000" stroke-width="0.18" text-anchor="end" fill="#000" >20000</text>
<line x1="437.45" y1="437.98" x2="444.65" y2="437.98" stroke="#000" stroke-width="1.8" />
<text x="436.35" y="441.3" font-size="12.15" font-weight="bold" stroke="#000" stroke-width="0.18" text-anchor="end" fill="#000" >10000</text>
<line x1="437.45" y1="513.3" x2="444.65" y2="513.3" stroke="#000" stroke-width="1.8" />
<text x="436.35" y="516.55" font-size="12.15" font-weight="bold" stroke="#000" stroke-width="0.18" text-anchor="end" fill="#000" >0</text>
<text transform="translate(404,401.7) rotate(-90)" font-size="12.2" font-weight="bold" stroke="#000" stroke-width="0.18" text-anchor="middle">Lipase Activity (U/g protein)</text>
<rect x="628.05" y="286.65" width="23.8" height="11.3" fill="#fff" stroke="#000" stroke-width="1.7"/>
<text x="665.2" y="298.8" font-size="12.25" font-weight="bold" stroke="#000" stroke-width="0.18" text-anchor="start" fill="#000" >Control</text>
<rect x="628.05" y="305.05" width="23.8" height="11.3" fill="#000" stroke="#000" stroke-width="1.7"/>
<text x="665.2" y="317.2" font-size="12.25" font-weight="bold" stroke="#000" stroke-width="0.18" text-anchor="start" fill="#000" >DOTD, 30 min before</text>
<rect x="628.05" y="324.85" width="23.8" height="11.3" fill="#fff"/>
<rect x="628.05" y="324.85" width="23.8" height="11.3" fill="url(#p21)" stroke="#000" stroke-width="1.7"/>
<text x="665.2" y="337.0" font-size="12.25" font-weight="bold" stroke="#000" stroke-width="0.18" text-anchor="start" fill="#000" >DOTD, 0 min</text>
<rect x="628.05" y="342.85" width="23.8" height="11.3" fill="#fff"/>
<rect x="628.05" y="342.85" width="23.8" height="11.3" fill="url(#p22)" stroke="#000" stroke-width="1.7"/>
<text x="665.2" y="355.0" font-size="12.25" font-weight="bold" stroke="#000" stroke-width="0.18" text-anchor="start" fill="#000" >DOTD, 30 min after</text>
<rect x="628.05" y="362.75" width="23.8" height="11.3" fill="#fff"/>
<rect x="628.05" y="362.75" width="23.8" height="11.3" fill="url(#p23)" stroke="#000" stroke-width="1.7"/>
<text x="665.2" y="374.9" font-size="12.25" font-weight="bold" stroke="#000" stroke-width="0.18" text-anchor="start" fill="#000" >DOTD, 60 min after</text>
<text x="520.7" y="437.91" font-family="Liberation Sans, sans-serif" font-size="13.5" letter-spacing="1.1" text-anchor="middle" fill="#4a4a4a" stroke="#4a4a4a" stroke-width="0.25">**</text>
<text x="539.5" y="414.61" font-family="Liberation Sans, sans-serif" font-size="13.5" letter-spacing="1.1" text-anchor="middle" fill="#4a4a4a" stroke="#4a4a4a" stroke-width="0.25">**</text>
<text x="614.1" y="467.31" font-family="Liberation Sans, sans-serif" font-size="13.5" letter-spacing="1.1" text-anchor="middle" fill="#4a4a4a" stroke="#4a4a4a" stroke-width="0.25">*</text>
<text x="633.3" y="464.91" font-family="Liberation Sans, sans-serif" font-size="13.5" letter-spacing="1.1" text-anchor="middle" fill="#4a4a4a" stroke="#4a4a4a" stroke-width="0.25">*</text>
<text x="652.5" y="486.81" font-family="Liberation Sans, sans-serif" font-size="13.5" letter-spacing="1.1" text-anchor="middle" fill="#4a4a4a" stroke="#4a4a4a" stroke-width="0.25">**</text>
<text x="707.6" y="508.2" font-family="Liberation Sans, sans-serif" font-size="13.5" letter-spacing="1.1" text-anchor="middle" fill="#4a4a4a" stroke="#4a4a4a" stroke-width="0.25">*</text>
<text x="727.2" y="506.7" font-family="Liberation Sans, sans-serif" font-size="13.5" letter-spacing="1.1" text-anchor="middle" fill="#4a4a4a" stroke="#4a4a4a" stroke-width="0.25">*</text>
<text x="746.5" y="503.0" font-family="Liberation Sans, sans-serif" font-size="13.5" letter-spacing="1.1" text-anchor="middle" fill="#4a4a4a" stroke="#4a4a4a" stroke-width="0.25">*</text>
</g>
<text x="613.3" y="578.8" font-size="32.4"  text-anchor="middle" fill="#000" >b</text>
</svg></body></html>
